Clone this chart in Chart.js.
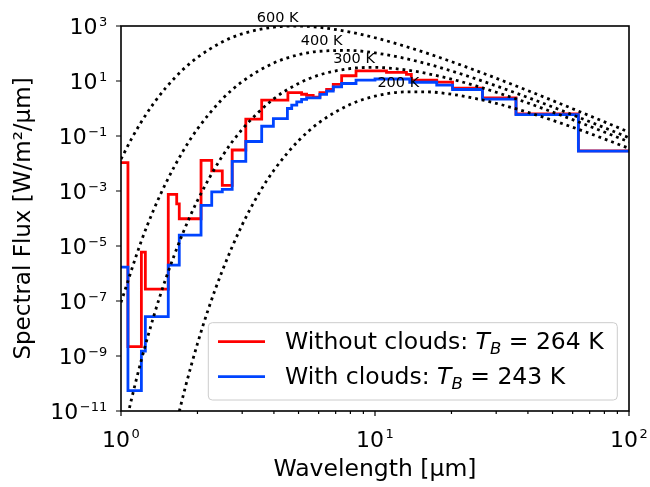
<!DOCTYPE html>
<html>
<head>
<meta charset="utf-8">
<script src="https://cdn.jsdelivr.net/npm/chart.js@4/dist/chart.umd.min.js"></script>
<style>
html,body{margin:0;padding:0;background:#fff;}
canvas{display:block;}
</style>
</head>
<body>
<canvas id="graf" width="650" height="487"></canvas>
<script>
/* DATA */
const xTicks=[1,10,100];
const xMinor=[2,3,4,5,6,7,8,9,20,30,40,50,60,70,80,90];
const yTicks=[1e-11,1e-9,1e-7,1e-5,1e-3,1e-1,1e1,1e3];

// bin edges (um) and flux per bin, W/m2/um
const edgesRed=[1,1.065,1.203,1.247,1.535,1.657,1.696,2.066,2.276,2.505,2.74,3.1,3.58,4.54,5.14,5.38,5.71,6.07,6.45,6.85,7.39,8.42,11.1,13.3,13.9,17.5,20.2,26.5,35.9,63.2,100];
const fluxRed=[1.07e-2,2.2e-9,6e-6,2.7e-7,7.5e-4,3.4e-4,9.8e-5,1.3e-2,5.4e-3,1.6e-3,3.1e-2,0.41,2.0,3.8,3.3,3.0,2.6,3.8,4.9,7.5,15.5,23.5,20.5,17.5,10.7,9.1,5.5,2.45,0.63,0.029];
const edgesBlue=[1,1.065,1.203,1.247,1.535,1.696,2.066,2.276,2.505,2.74,3.1,3.58,3.98,4.52,4.7,4.92,5.14,5.38,6.07,6.45,6.85,7.39,8.42,10.0,13.7,17.5,20.2,26.5,35.9,63.2,100];
const fluxBlue=[1.7e-6,5.5e-11,1.5e-9,2.7e-8,2.0e-6,2.5e-5,3e-4,9.3e-4,1.15e-3,1.2e-2,6.3e-2,0.226,0.43,1.0,1.32,1.74,2.13,2.43,3.24,4.27,6.1,8.1,10.7,11.8,9.0,7.1,4.9,2.2,0.6,0.028];

// blackbody curves
const lam600=[1,1.1,1.2,1.35,1.5,1.75,2,2.5,3,4,5,6,8,10,13,16,20,25,30,40,50,60,80,100];
const bb600=[0.0144,0.079,0.316,1.62,5.6,25.5,72,260,520,910,1000,900,600,374,189,103,50.5,23.8,12.6,4.45,1.95,0.98,0.327,0.138];
const lam400=[1,1.2,1.35,1.5,1.75,2,2.5,3,4,5,6,8,10,13,16,20,25,30,40,50,60,80,100];
const bb400=[8.9e-8,1.44e-5,2.25e-4,1.9e-3,0.027,0.181,2.16,9.5,45.5,90,120,129,105,67.6,42.1,23.2,11.9,6.65,2.51,1.14,0.586,0.201,0.0864];
const lam300=[1.05,1.1,1.2,1.35,1.5,1.75,2,2.5,3,4,5,6,8,10,13,16,20,25,30,40,50,60,80,100];
const bb300=[4.2e-12,2.7e-11,6.6e-10,3.1e-8,6.4e-7,2.85e-5,4.5e-4,0.0179,0.175,2.27,8.1,16.3,28.5,31.2,25.8,18.7,11.7,6.6,3.9,1.58,0.744,0.393,0.139,0.0608];
const lam200=[1.6,1.8,2,2.2,2.5,3,3.5,4,5,6,8,10,13,16,20,25,30,40,50,60,80,100];
const bb200=[1.06e-12,8.6e-11,2.8e-9,4.6e-8,1.2e-6,5.9e-5,8.5e-4,5.7e-3,0.0676,0.298,1.42,2.81,4.0,4.02,3.29,2.28,1.54,0.725,0.372,0.208,0.0783,0.0355];

const tempNames=['600 K','400 K','300 K','200 K'];
const tempX=[4.14,6.17,8.27,12.35];
const tempY=[1900,268,61,8.1];

const legNames=['Without clouds: ','With clouds: '];
const legTB=['264 K','243 K'];

const FONT='DejaVu Sans';
const RED='#ff0000',BLUE='#0044ff';

/* HELPERS */
function expo(v){
let e=Math.round(Math.log10(v));
return (e<0?'\u2212':'')+Math.abs(e);
}
function steps(ed,fl){
return ed.map((e,i)=>({x:e,y:fl[Math.min(i,fl.length-1)]}));
}
function curve(l,b){
return l.map((v,i)=>({x:v,y:b[i]}));
}
function dotted(d){
return {data:d,borderColor:'#000',borderWidth:2.8,borderDash:[2.8,4],pointRadius:0,
cubicInterpolationMode:'monotone',order:0};
}
// "10" with raised exponent, left edge at lx, main baseline at by
function powLabel(x,lx,by,v){
x.textAlign='left';x.textBaseline='alphabetic';
x.font='22px '+FONT;
x.fillText('10',lx,by);
let w=x.measureText('10').width;
x.font='13px '+FONT;
x.fillText(expo(v),lx+w+1.5,by-8.6);
}
function powWidth(x,v){
x.font='22px '+FONT;let w=x.measureText('10').width;
x.font='13px '+FONT;
return w+1.5+x.measureText(expo(v)).width;
}

/* DECORATION */
const deco={id:'deco',
afterDatasetsDraw(c){
let x=c.ctx,sx=c.scales.x,sy=c.scales.y;
x.save();
x.fillStyle='#000';
x.font='14.5px '+FONT;
x.textAlign='center';x.textBaseline='middle';
tempNames.forEach((t,i)=>{
x.fillText(t,sx.getPixelForValue(tempX[i]),sy.getPixelForValue(tempY[i]));
});
x.restore();
},
afterDraw(c){
let x=c.ctx,a=c.chartArea,sx=c.scales.x,sy=c.scales.y;
x.save();
/* ticks */
x.strokeStyle='#000';x.lineWidth=1.2;
x.beginPath();
xTicks.forEach(v=>{let p=sx.getPixelForValue(v);x.moveTo(p,a.bottom);x.lineTo(p,a.bottom+5);});
xMinor.forEach(v=>{let p=sx.getPixelForValue(v);x.moveTo(p,a.bottom);x.lineTo(p,a.bottom+3);});
yTicks.forEach(v=>{let p=sy.getPixelForValue(v);x.moveTo(a.left,p);x.lineTo(a.left-5,p);});
x.stroke();
/* tick labels */
x.fillStyle='#000';
yTicks.forEach(v=>{
let p=sy.getPixelForValue(v);
powLabel(x,a.left-13.7-powWidth(x,v),p+8.3,v);
});
xTicks.forEach(v=>{
let p=sx.getPixelForValue(v);
powLabel(x,p-powWidth(x,v)/2,a.bottom+35.5,v);
});
/* frame */
x.lineWidth=1.6;
x.strokeRect(a.left,a.top,a.right-a.left,a.bottom-a.top);
/* legend */
let bw=409,bh=77.3;
let bx=a.right-11.7-bw,by=a.bottom-11-bh;
x.beginPath();
if(x.roundRect)x.roundRect(bx,by,bw,bh,4);else x.rect(bx,by,bw,bh);
x.fillStyle='rgba(255,255,255,0.8)';x.fill();
x.strokeStyle='#cccccc';x.lineWidth=1;x.stroke();
[RED,BLUE].forEach((col,i)=>{
let ry=by+19+i*35,bl=by+26.6+i*35;
x.strokeStyle=col;x.lineWidth=2.8;
x.beginPath();x.moveTo(bx+9.7,ry);x.lineTo(bx+56.7,ry);x.stroke();
x.fillStyle='#000';x.textAlign='left';x.textBaseline='alphabetic';
let tx=bx+76.7;
x.font='23.5px '+FONT;
x.fillText(legNames[i],tx,bl);tx+=x.measureText(legNames[i]).width;
x.font='italic 23.5px '+FONT;
x.fillText('T',tx,bl);tx+=x.measureText('T').width;
x.font='italic 16.5px '+FONT;
x.fillText('B',tx,bl+5);tx+=x.measureText('B').width;
x.font='23.5px '+FONT;
x.fillText(' = '+legTB[i],tx,bl);
});
x.restore();
}};

/* CHART */
new Chart(document.getElementById('graf'),{
type:'line',
data:{datasets:[
{data:steps(edgesRed,fluxRed),borderColor:RED,borderWidth:2.8,stepped:true,pointRadius:0,order:2},
{data:steps(edgesBlue,fluxBlue),borderColor:BLUE,borderWidth:2.8,stepped:true,pointRadius:0,order:1},
dotted(curve(lam600,bb600)),
dotted(curve(lam400,bb400)),
dotted(curve(lam300,bb300)),
dotted(curve(lam200,bb200))
]},
options:{
responsive:false,animation:false,devicePixelRatio:1,
layout:{padding:{top:26,right:21,left:0,bottom:0}},
plugins:{legend:{display:false},tooltip:{enabled:false}},
scales:{
x:{type:'logarithmic',min:1,max:100,
grid:{display:false,drawTicks:false},border:{display:false},
afterBuildTicks:s=>{s.ticks=xTicks.map(v=>({value:v}));},
afterFit:s=>{s.height=76;},
ticks:{display:false},
title:{display:true,text:'Wavelength [µm]',color:'#000',font:{family:FONT,size:23.5},padding:{top:0,bottom:3}}
},
y:{type:'logarithmic',min:1e-11,max:1e3,
grid:{display:false,drawTicks:false},border:{display:false},
afterBuildTicks:s=>{s.ticks=yTicks.map(v=>({value:v}));},
afterFit:s=>{s.width=121;},
ticks:{display:false},
title:{display:true,text:'Spectral Flux [W/m²/µm]',color:'#000',font:{family:FONT,size:23},padding:{top:10,bottom:0}}
}
}
},
plugins:[deco]
});
</script>
</body>
</html>
